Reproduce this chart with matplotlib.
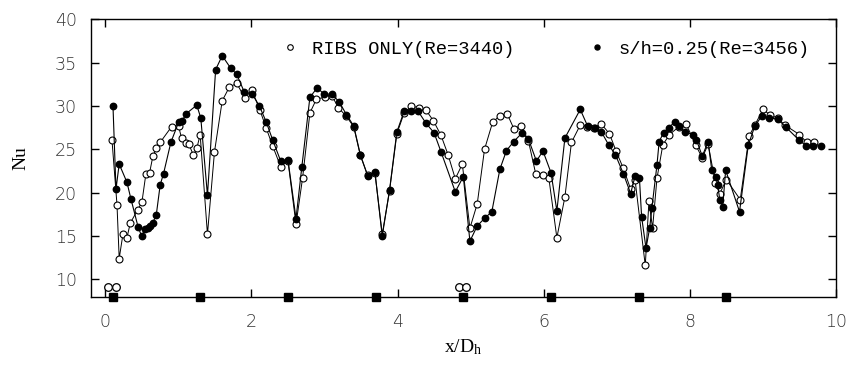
import matplotlib
matplotlib.use("Agg")
import matplotlib.pyplot as plt
from matplotlib.lines import Line2D

# ---- data ----
ribs_x = [0.091, 0.16, 0.19, 0.241, 0.296, 0.342, 0.442, 0.501, 0.556, 0.606,
          0.651, 0.697, 0.751, 0.906, 1.002, 1.043, 1.106, 1.143, 1.207, 1.252,
          1.298, 1.398, 1.494, 1.60, 1.699, 1.799, 1.908, 2.008, 2.117, 2.2,
          2.29, 2.4, 2.5, 2.61, 2.70, 2.80, 2.89, 3.0, 3.1, 3.19,
          3.30, 3.40, 3.49, 3.59, 3.69, 3.79, 3.89, 3.99, 4.09, 4.19,
          4.29, 4.39, 4.49, 4.595, 4.69, 4.79, 4.886, 4.99, 5.09, 5.19,
          5.30, 5.40, 5.50, 5.59, 5.69, 5.79, 5.89, 5.99, 6.07, 6.18,
          6.29, 6.38, 6.50, 6.59, 6.69, 6.79, 6.90, 6.99, 7.09, 7.19,
          7.25, 7.39, 7.44, 7.49, 7.55, 7.63, 7.72, 7.85, 7.95, 8.08,
          8.17, 8.25, 8.35, 8.41, 8.50, 8.69, 8.81, 8.89, 9.0, 9.10,
          9.20, 9.30, 9.50, 9.60, 9.70]
ribs_nu = [26.1, 18.6, 12.4, 15.2, 14.8, 16.5, 18.0, 18.9, 22.2, 22.3,
           24.2, 25.1, 25.8, 27.6, 27.7, 26.3, 25.7, 25.6, 24.3, 25.1,
           26.7, 15.2, 24.7, 30.6, 32.2, 32.6, 30.96, 31.8, 29.5, 27.5,
           25.4, 23.0, 23.65, 16.35, 21.7, 29.2, 30.8, 31.0, 31.2, 29.8,
           28.8, 27.6, 24.3, 22.0, 22.3, 15.2, 20.2, 26.8, 29.2, 30.0,
           29.8, 29.5, 28.3, 26.6, 24.4, 21.6, 23.3, 15.9, 18.7, 25.0,
           28.1, 28.9, 29.1, 27.4, 27.7, 26.0, 22.2, 22.0, 21.7, 14.8,
           19.5, 25.8, 27.8, 27.6, 27.5, 27.9, 26.8, 24.8, 22.8, 20.4,
           21.5, 11.6, 19.0, 15.9, 21.65, 25.5, 26.7, 27.6, 27.9, 25.5,
           24.0, 25.6, 21.1, 19.9, 21.5, 19.2, 26.5, 27.8, 29.6, 28.96,
           28.6, 27.8, 26.7, 25.8, 25.8]

sh_x = [0.105, 0.146, 0.19, 0.296, 0.35, 0.45, 0.497, 0.546, 0.583, 0.615,
        0.647, 0.697, 0.751, 0.797, 0.897, 1.002, 1.052, 1.106, 1.252, 1.307,
        1.398, 1.51, 1.60, 1.717, 1.799, 1.899, 2.008, 2.109, 2.2, 2.29,
        2.4, 2.5, 2.61, 2.69, 2.80, 2.90, 2.99, 3.1, 3.2, 3.30,
        3.40, 3.49, 3.59, 3.69, 3.79, 3.89, 3.99, 4.09, 4.19, 4.28,
        4.39, 4.50, 4.595, 4.79, 4.90, 4.99, 5.09, 5.19, 5.29, 5.4,
        5.49, 5.59, 5.70, 5.79, 5.90, 5.99, 6.1, 6.18, 6.29, 6.50,
        6.60, 6.70, 6.79, 6.89, 6.98, 7.09, 7.19, 7.25, 7.31, 7.34,
        7.40, 7.45, 7.48, 7.55, 7.58, 7.64, 7.71, 7.80, 7.85, 7.93,
        8.05, 8.09, 8.17, 8.25, 8.30, 8.355, 8.38, 8.41, 8.45, 8.49,
        8.68, 8.80, 8.89, 8.99, 9.09, 9.20, 9.31, 9.49, 9.59, 9.69,
        9.80]
sh_nu = [30.0, 20.4, 23.3, 21.2, 19.3, 16.0, 15.0, 15.8, 15.9, 16.1,
         16.5, 17.4, 20.9, 22.2, 25.8, 28.1, 28.3, 29.1, 30.1, 28.6,
         19.7, 34.2, 35.8, 34.35, 33.66, 31.66, 31.4, 30.0, 28.2, 26.1,
         23.65, 23.77, 17.0, 23.0, 31.0, 32.1, 31.4, 31.35, 30.5, 29.0,
         27.7, 24.4, 21.96, 22.4, 15.0, 20.3, 27.0, 29.4, 29.4, 29.4,
         28.0, 26.9, 24.7, 20.1, 21.85, 14.4, 16.16, 17.04, 17.8, 22.7,
         24.85, 25.9, 26.85, 26.2, 23.65, 24.8, 22.3, 17.9, 26.3, 29.6,
         27.7, 27.5, 27.0, 25.5, 24.4, 22.2, 19.9, 21.9, 21.7, 17.2,
         13.6, 15.9, 18.2, 23.2, 25.9, 26.9, 27.5, 28.2, 27.7, 27.0,
         26.7, 26.1, 24.2, 25.9, 22.6, 21.85, 20.9, 19.2, 18.4, 22.6,
         17.8, 25.5, 27.7, 28.9, 28.6, 28.5, 27.6, 26.1, 25.4, 25.4,
         25.4]

rib_pos_x = [0.1, 1.3, 2.5, 3.7, 4.9, 6.1, 7.3, 8.5]
rib_pos_y = [8.0] * len(rib_pos_x)
probe_x = [0.03, 0.14, 4.84, 4.93]
probe_y = [9.1, 9.1, 9.1, 9.1]

xticks = [0, 2, 4, 6, 8, 10]
yticks = [10, 15, 20, 25, 30, 35, 40]
label_ribs = "RIBS ONLY(Re=3440)"
label_sh = "s/h=0.25(Re=3456)"

# ---- figure ----
plt.rcParams['mathtext.fontset'] = 'custom'
plt.rcParams['mathtext.rm'] = 'Liberation Serif'
plt.rcParams['mathtext.it'] = 'Liberation Serif:italic'

fig = plt.figure(figsize=(8.5, 3.67), dpi=100)
ax = fig.add_axes([0.1067, 0.1916, 0.8768, 0.7558])

ax.plot(ribs_x, ribs_nu, '-', color='black', lw=0.7, marker='o', ms=5,
        mfc='white', mec='black', mew=0.8, zorder=3)
ax.plot(sh_x, sh_nu, '-', color='black', lw=0.8, marker='o', ms=4.6,
        mfc='black', mec='black', zorder=4)
ax.plot(probe_x, probe_y, 'o', ms=5.5, mfc='white', mec='black', mew=0.9,
        zorder=5, clip_on=False)
ax.plot(rib_pos_x, rib_pos_y, 's', ms=6, color='black', zorder=6,
        clip_on=False)

ax.set_xlim(-0.2, 10)
ax.set_ylim(8, 40)
ax.set_xticks(xticks)
ax.set_yticks(yticks)
for s in ax.spines.values():
    s.set_linewidth(1.0)
ax.tick_params(direction='in', length=6, width=1.0, top=True, right=True,
               labelsize=12.5, colors='black')
ax.tick_params(axis='x', pad=12)
ax.tick_params(axis='y', pad=10)
for lbl in ax.get_xticklabels() + ax.get_yticklabels():
    lbl.set_fontfamily('DejaVu Sans')
    lbl.set_fontweight('light')
    lbl.set_color('#333333')

ax.set_xlabel(r'x/D$_{\rm h}$', fontsize=14, family='Liberation Serif',
              labelpad=4)
ax.set_ylabel('Nu', fontsize=14, family='Liberation Serif', labelpad=18)

h1 = Line2D([], [], ls='none', marker='o', ms=4, mfc='white', mec='black',
            mew=0.8)
h2 = Line2D([], [], ls='none', marker='o', ms=3.6, mfc='black', mec='black')
legkw = dict(frameon=False, loc='center left', handlelength=0.6,
             handletextpad=0.85, borderpad=0, borderaxespad=0,
             prop={'family': 'Liberation Mono', 'size': 13.5})
leg1 = ax.legend([h1], [label_ribs], bbox_to_anchor=(0.26, 0.893), **legkw)
ax.add_artist(leg1)
ax.legend([h2], [label_sh], bbox_to_anchor=(0.672, 0.893), **legkw)

fig.savefig('out.png', dpi=100)
